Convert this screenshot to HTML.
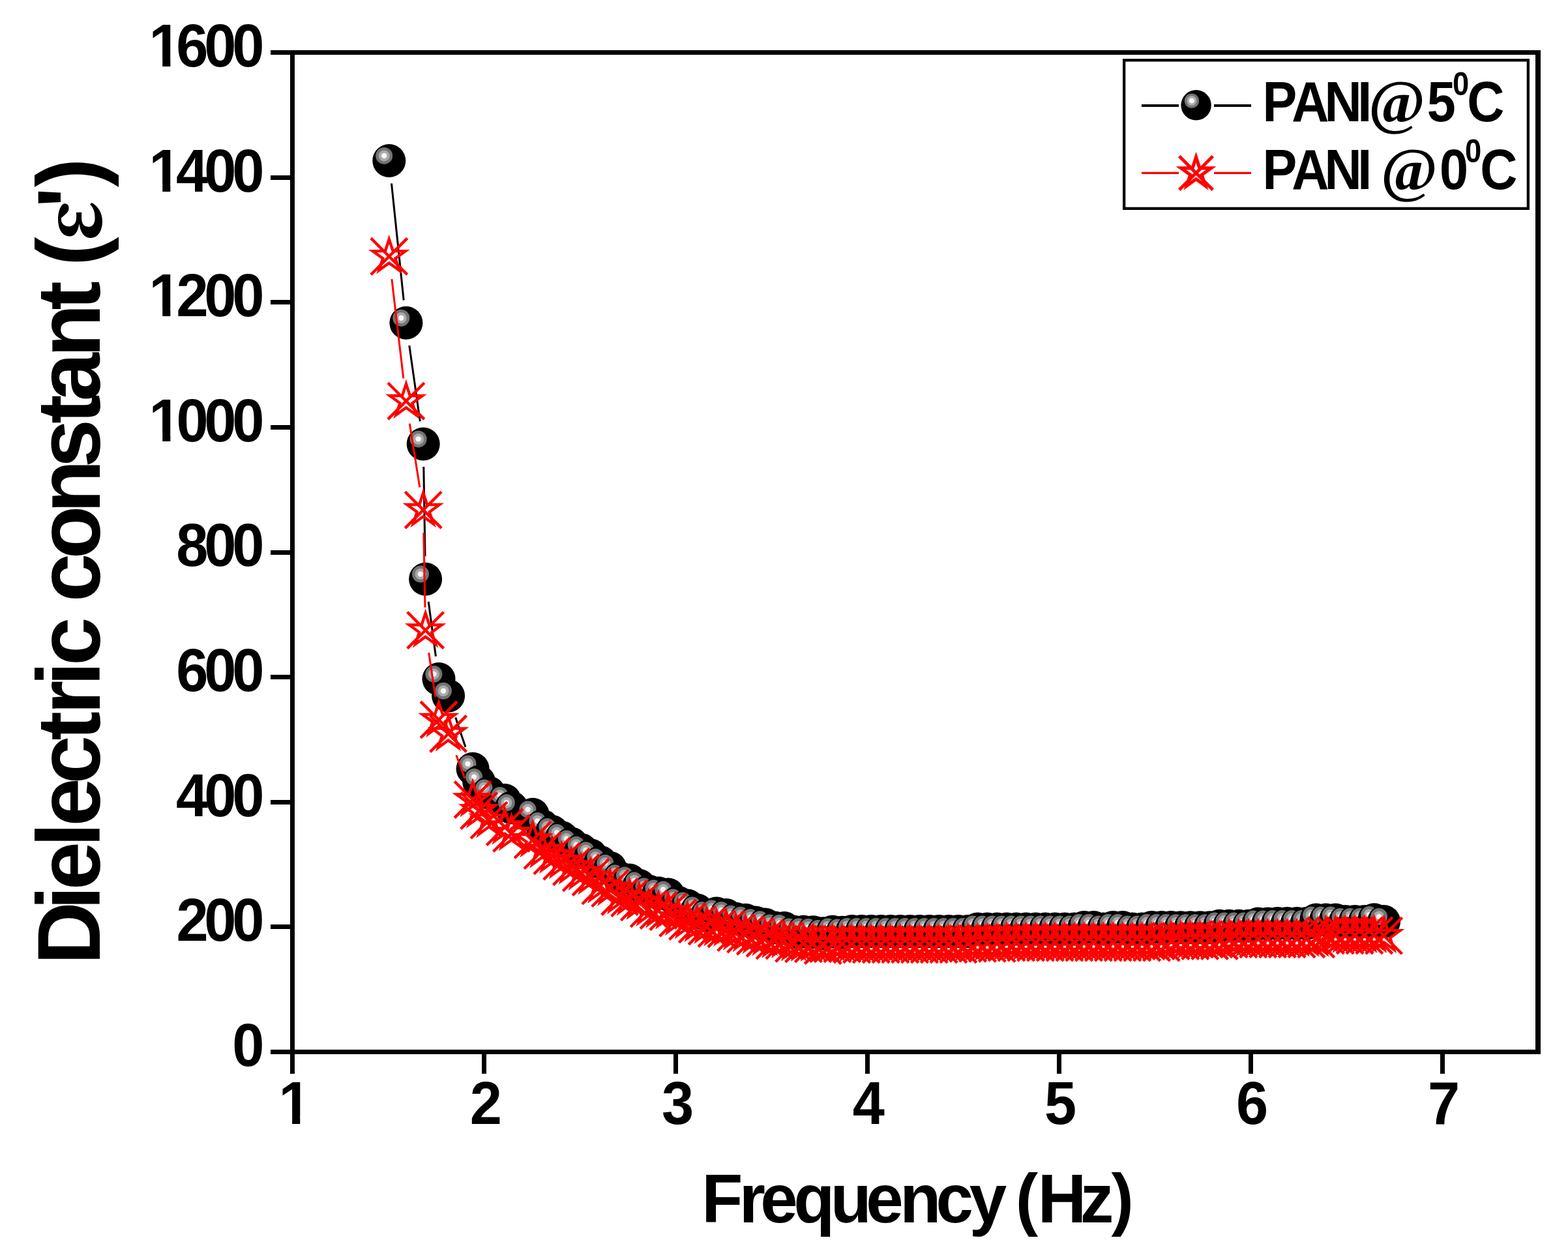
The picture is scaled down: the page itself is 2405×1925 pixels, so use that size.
<!DOCTYPE html>
<html><head><meta charset="utf-8"><title>Dielectric constant vs Frequency</title>
<style>html,body{margin:0;padding:0;background:#fff;overflow:hidden;} svg{display:block;}</style></head>
<body><svg width="2405" height="1925" viewBox="0 0 2405 1925">
<defs><mask id="m1" maskUnits="userSpaceOnUse" x="0" y="0" width="2405" height="1925"><rect width="2405" height="1925" fill="#fff"/><rect x="232.28" y="665.88" width="16.95" height="13.00" fill="#000"/><rect x="261.35" y="665.88" width="15.44" height="13.00" fill="#000"/><rect x="232.28" y="474.25" width="16.95" height="13.00" fill="#000"/><rect x="261.35" y="474.25" width="12.08" height="13.00" fill="#000"/><rect x="232.28" y="282.62" width="16.95" height="13.00" fill="#000"/><rect x="261.35" y="282.62" width="15.44" height="13.00" fill="#000"/><rect x="232.28" y="91.90" width="16.95" height="12.10" fill="#000"/><rect x="261.35" y="91.90" width="14.44" height="12.10" fill="#000"/><rect x="431.18" y="1712.80" width="16.95" height="13.00" fill="#000"/><rect x="460.25" y="1712.80" width="15.44" height="13.00" fill="#000"/></mask><g id="ball"><circle r="25.5" fill="#000"/><circle cx="-7.6" cy="-7.6" r="13" fill="#737373"/><circle cx="-7.6" cy="-7.6" r="8.5" fill="#aaaaaa"/><circle cx="-7.6" cy="-7.6" r="4.2" fill="#f8f8f8"/></g><g id="star" fill="none" stroke="#ff0000"><polygon points="0.00,-26.30 -5.91,-8.13 -25.01,-8.13 -9.56,3.11 -15.46,21.28 -0.00,10.05 15.46,21.28 9.56,3.11 25.01,-8.13 5.91,-8.13" stroke-width="4.4" stroke-linejoin="miter" stroke-miterlimit="10"/><path d="M-27.9,-27.9L27.9,27.9M27.9,-27.9L-27.9,27.9" stroke-width="4.4" stroke-linecap="butt"/></g><g id="lball"><circle r="23.2" fill="#000"/><circle cx="-6.7" cy="-6.7" r="11.2" fill="#737373"/><circle cx="-6.7" cy="-6.7" r="7.5" fill="#aaaaaa"/><circle cx="-6.7" cy="-6.7" r="4.0" fill="#f8f8f8"/></g><g id="lstar" fill="none" stroke="#ff0000"><polygon points="0.00,-24.20 -5.44,-7.48 -23.02,-7.48 -8.80,2.86 -14.22,19.58 -0.00,9.25 14.22,19.58 8.80,2.86 23.02,-7.48 5.44,-7.48" stroke-width="5.2" stroke-linejoin="miter" stroke-miterlimit="10"/><path d="M-25.8,-25.8L25.8,25.8M25.8,-25.8L-25.8,25.8" stroke-width="5.0" stroke-linecap="butt"/></g></defs>
<rect width="2405" height="1925" fill="#fff"/>
<g fill="#000" shape-rendering="crispEdges">
<rect x="445" y="77" width="7" height="1540"/>
<rect x="2355" y="77" width="7.8" height="1540"/>
<rect x="415" y="77" width="1947.8" height="7"/>
<rect x="415" y="1610" width="1947.8" height="7"/>
<rect x="415" y="1418.38" width="31" height="7"/>
<rect x="415" y="1226.75" width="31" height="7"/>
<rect x="415" y="1035.12" width="31" height="7"/>
<rect x="415" y="843.50" width="31" height="7"/>
<rect x="415" y="651.88" width="31" height="7"/>
<rect x="415" y="460.25" width="31" height="7"/>
<rect x="415" y="268.62" width="31" height="7"/>
<rect x="445.00" y="1616" width="7" height="31"/>
<rect x="738.92" y="1616" width="7" height="31"/>
<rect x="1032.84" y="1616" width="7" height="31"/>
<rect x="1326.76" y="1616" width="7" height="31"/>
<rect x="1620.68" y="1616" width="7" height="31"/>
<rect x="1914.60" y="1616" width="7" height="31"/>
<rect x="2208.52" y="1616" width="7" height="31"/>
</g>
<g mask="url(#m1)"><g transform="scale(0.945,1)" font-family="'Liberation Sans', Arial, Helvetica, sans-serif" font-weight="bold" font-size="93.5" fill="#000">
<text x="376.93" y="1635.00">0</text>
<text x="286.31 331.53 376.93" y="1443.38">200</text>
<text x="285.61 331.53 376.93" y="1251.75">400</text>
<text x="286.04 331.53 376.93" y="1060.12">600</text>
<text x="286.02 331.53 376.93" y="868.50">800</text>
<text x="241.91 286.13 331.53 376.93" y="676.88">1000</text>
<text x="241.91 286.31 331.53 376.93" y="485.25">1200</text>
<text x="241.91 285.61 331.53 376.93" y="293.62">1400</text>
<text x="241.91 286.04 331.53 376.93" y="102.00">1600</text>
<text x="452.39" y="1723.8">1</text>
<text x="762.63" y="1723.8">2</text>
<text x="1074.02" y="1723.8">3</text>
<text x="1383.98" y="1723.8">4</text>
<text x="1695.32" y="1723.8">5</text>
<text x="2006.46" y="1723.8">6</text>
<text x="2317.56" y="1723.8">7</text>
</g></g>
<text transform="scale(0.97,1)" x="1109.52 1168.79 1202.29 1254.98 1313.04 1369.45 1422.99 1480.02 1532.63 1579.59 1606.06 1641.11 1707.91 1757.24" y="1874.9" font-family="'Liberation Sans', Arial, Helvetica, sans-serif" font-weight="bold" font-size="106.5" fill="#000">Frequency (Hz)</text>
<text transform="translate(152.9,1480.0) rotate(-90) scale(0.97,1)" font-family="'Liberation Sans', Arial, Helvetica, sans-serif" font-weight="bold" font-size="138" fill="#000" y="0"><tspan x="0.36 86.82 118.30 186.67 218.97 286.16 354.86 396.09 441.26 473.17 543.48 574.04 641.72 714.54 786.00 855.68 891.33 960.93 1035.42 1075.78 1105.15">Dielectric constant (</tspan><tspan x="1144.60" y="2.0" font-family="'Noto Serif CJK SC', 'Liberation Serif', serif" font-weight="900" font-size="118" textLength="64.38" lengthAdjust="spacingAndGlyphs">ε</tspan><tspan x="1197.20 1229.67" y="0">')</tspan></text>
<path d="M600.5,281.3L619.2,460.5M627.8,530.0L644.3,646.3M649.8,716.0L652.0,853.2M657.2,922.9L668.4,1006.8M698.7,1100.5L714.0,1146.0" stroke="#000" stroke-width="3" fill="none"/>
<g><use href="#ball" x="596.8" y="246.5"/><use href="#ball" x="622.9" y="495.3"/><use href="#ball" x="649.2" y="681.0"/><use href="#ball" x="652.6" y="888.2"/><use href="#ball" x="673.0" y="1041.5"/><use href="#ball" x="687.6" y="1067.3"/><use href="#ball" x="725.1" y="1179.2"/><use href="#ball" x="734.7" y="1199.3"/><use href="#ball" x="750.0" y="1216.0"/><use href="#ball" x="774.2" y="1227.5"/><use href="#ball" x="784.5" y="1238.8"/><use href="#ball" x="817.1" y="1249.2"/><use href="#ball" x="831.9" y="1266.7"/><use href="#ball" x="846.8" y="1275.6"/><use href="#ball" x="861.6" y="1284.5"/><use href="#ball" x="876.4" y="1294.0"/><use href="#ball" x="891.3" y="1303.4"/><use href="#ball" x="906.1" y="1311.8"/><use href="#ball" x="920.9" y="1322.4"/><use href="#ball" x="935.8" y="1331.3"/><use href="#ball" x="950.6" y="1346.9"/><use href="#ball" x="965.5" y="1350.0"/><use href="#ball" x="980.3" y="1358.2"/><use href="#ball" x="995.1" y="1367.0"/><use href="#ball" x="1010.0" y="1370.1"/><use href="#ball" x="1024.8" y="1372.1"/><use href="#ball" x="1039.6" y="1384.1"/><use href="#ball" x="1054.5" y="1389.0"/><use href="#ball" x="1069.3" y="1396.1"/><use href="#ball" x="1084.1" y="1403.7"/><use href="#ball" x="1099.0" y="1401.1"/><use href="#ball" x="1113.8" y="1403.5"/><use href="#ball" x="1128.6" y="1409.3"/><use href="#ball" x="1143.5" y="1411.3"/><use href="#ball" x="1158.3" y="1414.9"/><use href="#ball" x="1173.1" y="1417.9"/><use href="#ball" x="1188.0" y="1423.0"/><use href="#ball" x="1202.8" y="1423.6"/><use href="#ball" x="1217.6" y="1429.2"/><use href="#ball" x="1232.5" y="1429.2"/><use href="#ball" x="1247.3" y="1429.7"/><use href="#ball" x="1262.2" y="1431.7"/><use href="#ball" x="1277.0" y="1429.2"/><use href="#ball" x="1291.8" y="1430.2"/><use href="#ball" x="1306.7" y="1428.6"/><use href="#ball" x="1321.5" y="1428.6"/><use href="#ball" x="1336.3" y="1428.6"/><use href="#ball" x="1351.2" y="1428.6"/><use href="#ball" x="1366.0" y="1428.6"/><use href="#ball" x="1380.8" y="1428.6"/><use href="#ball" x="1395.7" y="1428.6"/><use href="#ball" x="1410.5" y="1428.6"/><use href="#ball" x="1425.3" y="1428.6"/><use href="#ball" x="1440.2" y="1428.6"/><use href="#ball" x="1455.0" y="1428.6"/><use href="#ball" x="1469.8" y="1428.6"/><use href="#ball" x="1484.7" y="1428.6"/><use href="#ball" x="1499.5" y="1425.0"/><use href="#ball" x="1514.3" y="1425.0"/><use href="#ball" x="1529.2" y="1425.0"/><use href="#ball" x="1544.0" y="1425.0"/><use href="#ball" x="1558.8" y="1425.0"/><use href="#ball" x="1573.7" y="1425.0"/><use href="#ball" x="1588.5" y="1425.0"/><use href="#ball" x="1603.4" y="1425.0"/><use href="#ball" x="1618.2" y="1425.0"/><use href="#ball" x="1633.0" y="1425.0"/><use href="#ball" x="1647.9" y="1425.0"/><use href="#ball" x="1662.7" y="1422.6"/><use href="#ball" x="1677.5" y="1422.6"/><use href="#ball" x="1692.4" y="1425.0"/><use href="#ball" x="1707.2" y="1422.6"/><use href="#ball" x="1722.0" y="1422.6"/><use href="#ball" x="1736.9" y="1425.0"/><use href="#ball" x="1751.7" y="1425.0"/><use href="#ball" x="1766.5" y="1422.6"/><use href="#ball" x="1781.4" y="1422.6"/><use href="#ball" x="1796.2" y="1422.6"/><use href="#ball" x="1811.0" y="1422.8"/><use href="#ball" x="1825.9" y="1422.8"/><use href="#ball" x="1840.7" y="1422.8"/><use href="#ball" x="1855.6" y="1422.8"/><use href="#ball" x="1870.4" y="1420.2"/><use href="#ball" x="1885.2" y="1420.2"/><use href="#ball" x="1900.1" y="1420.2"/><use href="#ball" x="1914.9" y="1420.2"/><use href="#ball" x="1929.7" y="1417.0"/><use href="#ball" x="1944.6" y="1417.0"/><use href="#ball" x="1959.4" y="1416.5"/><use href="#ball" x="1974.2" y="1416.5"/><use href="#ball" x="1989.1" y="1416.5"/><use href="#ball" x="2003.9" y="1416.5"/><use href="#ball" x="2018.7" y="1411.0"/><use href="#ball" x="2033.6" y="1411.0"/><use href="#ball" x="2048.4" y="1411.0"/><use href="#ball" x="2063.2" y="1413.5"/><use href="#ball" x="2078.1" y="1413.5"/><use href="#ball" x="2092.9" y="1413.5"/><use href="#ball" x="2107.7" y="1410.7"/><use href="#ball" x="2122.6" y="1413.5"/></g>
<path d="M600.9,428.1L618.8,580.4M628.3,649.8L643.8,747.6M649.8,817.2L652.0,931.7M657.7,1001.3L667.9,1069.4M699.8,1158.3L712.9,1193.7" stroke="#ff0000" stroke-width="3" fill="none"/>
<g><use href="#star" x="596.8" y="393.3"/><use href="#star" x="622.9" y="615.2"/><use href="#star" x="649.2" y="782.2"/><use href="#star" x="652.6" y="966.7"/><use href="#star" x="673.0" y="1104.0"/><use href="#star" x="687.6" y="1125.5"/><use href="#star" x="725.1" y="1226.5"/><use href="#star" x="734.7" y="1243.5"/><use href="#star" x="750.0" y="1258.1"/><use href="#star" x="774.2" y="1268.6"/><use href="#star" x="784.5" y="1278.3"/><use href="#star" x="817.1" y="1288.3"/><use href="#star" x="831.9" y="1304.6"/><use href="#star" x="846.8" y="1312.9"/><use href="#star" x="861.6" y="1321.3"/><use href="#star" x="876.4" y="1329.6"/><use href="#star" x="891.3" y="1338.8"/><use href="#star" x="906.1" y="1345.5"/><use href="#star" x="920.9" y="1358.8"/><use href="#star" x="935.8" y="1362.6"/><use href="#star" x="950.6" y="1375.5"/><use href="#star" x="965.5" y="1377.6"/><use href="#star" x="980.3" y="1383.9"/><use href="#star" x="995.1" y="1393.9"/><use href="#star" x="1010.0" y="1396.5"/><use href="#star" x="1024.8" y="1398.5"/><use href="#star" x="1039.6" y="1408.2"/><use href="#star" x="1054.5" y="1413.3"/><use href="#star" x="1069.3" y="1417.9"/><use href="#star" x="1084.1" y="1421.0"/><use href="#star" x="1099.0" y="1424.4"/><use href="#star" x="1113.8" y="1425.0"/><use href="#star" x="1128.6" y="1430.6"/><use href="#star" x="1143.5" y="1433.1"/><use href="#star" x="1158.3" y="1436.2"/><use href="#star" x="1173.1" y="1439.2"/><use href="#star" x="1188.0" y="1442.8"/><use href="#star" x="1202.8" y="1442.8"/><use href="#star" x="1217.6" y="1447.4"/><use href="#star" x="1232.5" y="1447.9"/><use href="#star" x="1247.3" y="1447.9"/><use href="#star" x="1262.2" y="1450.5"/><use href="#star" x="1277.0" y="1447.9"/><use href="#star" x="1291.8" y="1447.9"/><use href="#star" x="1306.7" y="1448.8"/><use href="#star" x="1321.5" y="1448.8"/><use href="#star" x="1336.3" y="1448.8"/><use href="#star" x="1351.2" y="1448.8"/><use href="#star" x="1366.0" y="1448.8"/><use href="#star" x="1380.8" y="1448.8"/><use href="#star" x="1395.7" y="1448.8"/><use href="#star" x="1410.5" y="1448.8"/><use href="#star" x="1425.3" y="1448.8"/><use href="#star" x="1440.2" y="1448.8"/><use href="#star" x="1455.0" y="1448.8"/><use href="#star" x="1469.8" y="1448.8"/><use href="#star" x="1484.7" y="1447.3"/><use href="#star" x="1499.5" y="1447.3"/><use href="#star" x="1514.3" y="1447.3"/><use href="#star" x="1529.2" y="1447.3"/><use href="#star" x="1544.0" y="1446.0"/><use href="#star" x="1558.8" y="1446.0"/><use href="#star" x="1573.7" y="1446.0"/><use href="#star" x="1588.5" y="1446.0"/><use href="#star" x="1603.4" y="1446.0"/><use href="#star" x="1618.2" y="1446.0"/><use href="#star" x="1633.0" y="1446.0"/><use href="#star" x="1647.9" y="1446.0"/><use href="#star" x="1662.7" y="1446.0"/><use href="#star" x="1677.5" y="1446.0"/><use href="#star" x="1692.4" y="1446.0"/><use href="#star" x="1707.2" y="1446.0"/><use href="#star" x="1722.0" y="1446.0"/><use href="#star" x="1736.9" y="1446.0"/><use href="#star" x="1751.7" y="1446.0"/><use href="#star" x="1766.5" y="1446.0"/><use href="#star" x="1781.4" y="1446.0"/><use href="#star" x="1796.2" y="1443.5"/><use href="#star" x="1811.0" y="1443.5"/><use href="#star" x="1825.9" y="1443.5"/><use href="#star" x="1840.7" y="1443.5"/><use href="#star" x="1855.6" y="1443.5"/><use href="#star" x="1870.4" y="1443.5"/><use href="#star" x="1885.2" y="1440.7"/><use href="#star" x="1900.1" y="1440.7"/><use href="#star" x="1914.9" y="1440.7"/><use href="#star" x="1929.7" y="1440.7"/><use href="#star" x="1944.6" y="1440.7"/><use href="#star" x="1959.4" y="1440.7"/><use href="#star" x="1974.2" y="1440.7"/><use href="#star" x="1989.1" y="1440.7"/><use href="#star" x="2003.9" y="1440.7"/><use href="#star" x="2018.7" y="1440.7"/><use href="#star" x="2033.6" y="1435.0"/><use href="#star" x="2048.4" y="1435.0"/><use href="#star" x="2063.2" y="1435.0"/><use href="#star" x="2078.1" y="1435.0"/><use href="#star" x="2092.9" y="1435.0"/><use href="#star" x="2107.7" y="1435.0"/><use href="#star" x="2122.6" y="1435.3"/></g>
<rect x="1724.15" y="92.35" width="619.7" height="227.5" fill="none" stroke="#000" stroke-width="4.3"/>
<path d="M1751,162H1808M1862,162H1919" stroke="#000" stroke-width="3.8"/>
<use href="#lball" x="1834.6" y="161.3"/>
<path d="M1751,265.4H1808M1862,265.4H1919" stroke="#ff0000" stroke-width="3.2"/>
<use href="#lstar" x="1834.5" y="265.4"/>
<text transform="scale(0.915,1)" font-family="'Liberation Sans', Arial, Helvetica, sans-serif" font-weight="bold" font-size="86.5" fill="#000" y="185.7"><tspan x="2116.51 2165.22 2220.21 2275.80">PANI</tspan><tspan x="2293.90" y="187.2" font-family="'Liberation Serif', 'Times New Roman', serif" font-size="93.6" textLength="95.15" lengthAdjust="spacingAndGlyphs">@</tspan><tspan x="2392.21" y="185.7">5</tspan><tspan x="2434.99" y="145.7" font-size="49.6">0</tspan><tspan x="2459.32" y="185.7">C</tspan></text>
<text transform="scale(0.915,1)" font-family="'Liberation Sans', Arial, Helvetica, sans-serif" font-weight="bold" font-size="86.5" fill="#000" y="289.6"><tspan x="2116.51 2165.22 2220.21 2275.80 2293.99">PANI </tspan><tspan x="2314.77" y="291.1" font-family="'Liberation Serif', 'Times New Roman', serif" font-size="93.6" textLength="95.15" lengthAdjust="spacingAndGlyphs">@</tspan><tspan x="2413.17" y="289.6">0</tspan><tspan x="2455.64" y="249.5" font-size="49.6">0</tspan><tspan x="2481.24" y="289.6">C</tspan></text>
</svg></body></html>
